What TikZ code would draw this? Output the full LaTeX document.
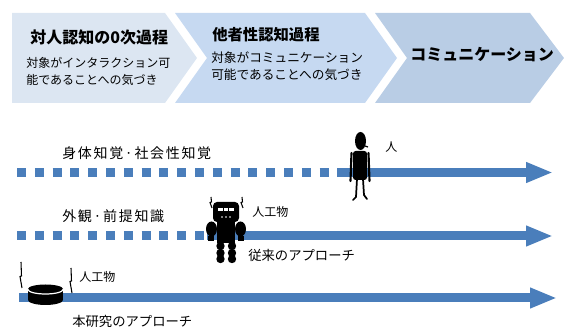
\documentclass[tikz,border=0pt]{standalone}
\usepackage{fontspec}
\setmainfont{Noto Sans CJK JP}
\newfontfamily\jp{Noto Sans CJK JP}
\newfontfamily\jpspaced[LetterSpace=12]{Noto Sans CJK JP}
\usetikzlibrary{arrows.meta}

\definecolor{chevA}{RGB}{220,230,242}
\definecolor{chevB}{RGB}{198,217,241}
\definecolor{chevC}{RGB}{185,205,229}
\definecolor{flowblue}{RGB}{74,126,187}

\tikzset{
  head/.style={anchor=west, inner sep=0pt, font=\jp\bfseries\fontsize{12pt}{14pt}\selectfont},
  desc/.style={anchor=west, inner sep=0pt, font=\jp\fontsize{9.5pt}{11pt}\selectfont},
  lbl/.style={anchor=west, inner sep=0pt, font=\jpspaced\fontsize{10.5pt}{12pt}\selectfont},
  approach/.style={anchor=west, inner sep=0pt, font=\jp\fontsize{10pt}{12pt}\selectfont},
  small/.style={anchor=west, inner sep=0pt, font=\jp\fontsize{9pt}{11pt}\selectfont},
  flow/.style={draw=flowblue, line width=6.75pt, -{Triangle[length=20.25pt,width=14.25pt]}},
  dashflow/.style={draw=flowblue, line width=6.75pt, dash pattern=on 6.75pt off 6.6pt},
  spark/.style={draw=black, line width=0.8pt, line join=miter},
}

\begin{document}
\begin{tikzpicture}[x=0.75pt, y=-0.75pt]
\useasboundingbox (0,0) rectangle (564,327);

% --- process chevrons ---
\fill[chevA] (12,13) -- (165,13) -- (197,58) -- (165,103) -- (12,103) -- cycle;
\fill[chevB] (175,13) -- (365,13) -- (397,58) -- (365,103) -- (175,103) -- (207,58) -- cycle;
\fill[chevC] (375,13) -- (530,13) -- (564,58) -- (530,103) -- (375,103) -- (407,58) -- cycle;

\node[head] (h1) at (30,37) {対人認知の0次過程};
\node[desc, font=\jp\fontsize{9pt}{11pt}\selectfont] (d1a) at (26,63) {対象がインタラクション可};
\node[desc, font=\jp\fontsize{9pt}{11pt}\selectfont] (d1b) at (26,80) {能であることへの気づき};

\node[head, font=\jp\bfseries\fontsize{11.5pt}{14pt}\selectfont] (h2) at (212,35) {他者性認知過程};
\node[desc] (d2a) at (211,58) {対象がコミュニケーション};
\node[desc] (d2b) at (211,75) {可能であることへの気づき};

\node[head] (h3) at (410,55) {コミュニケーション};

% --- flow lines ---
\coordinate (l1s) at (17,172.5);
\coordinate (l1m) at (339,172.5);
\coordinate (l1e) at (553,172.5);
\coordinate (l2s) at (17,236);
\coordinate (l2m) at (207,236);
\coordinate (l2e) at (553,236);
\coordinate (l3s) at (19,298);
\coordinate (l3e) at (557,298);

\draw[dashflow] (l1s) -- (l1m);
\draw[flow] (l1m) -- (l1e);
\draw[dashflow] (l2s) -- (l2m);
\draw[flow] (l2m) -- (l2e);
\draw[flow] (l3s) -- (l3e);

\node[lbl] (t1) at (62,153) {身体知覚·社会性知覚};
\node[lbl] (t2) at (62,216) {外観·前提知識};
\node[small] (human) at (385,147) {人};
\node[small] (art1) at (252,212) {人工物};
\node[approach] (app1) at (248,255) {従来のアプローチ};
\node[small] (art2) at (79,277) {人工物};
\node[approach] (app2) at (72,321) {本研究のアプローチ};

% --- human silhouette ---
\fill (360.5,141) ellipse [x radius=5.5, y radius=9];
\draw[line width=0.9pt] (365,146) -- (368,147);
\fill[rounded corners=2] (353,151) rectangle (367,180);
\draw[line width=1.6pt, line cap=round] (351.5,153) -- (350.5,181);
\draw[line width=1.6pt, line cap=round] (368.5,153) -- (369.5,181);
\draw[line width=1.3pt, line cap=round] (357,179) -- (356,197) -- (353,200);
\draw[line width=1.3pt, line cap=round] (363,179) -- (364,195) -- (367,199);

% --- robot silhouette ---
\draw[spark] (211,197) -- (211.5,202) -- (210,202.5) -- (212,208);
\draw[spark] (242,197) -- (242.5,202) -- (241,202.5) -- (243,208);
\fill[rounded corners=3] (213,202) rectangle (239,222);
\fill[white] (218,208) rectangle (234,211);
\fill (223,208) rectangle (224,211);
\fill (228,208) rectangle (229,211);
\foreach \dx in {222,226,230} \fill[white] (\dx,217) circle (0.9);
\fill (217,221) rectangle (235,243);
\fill (211.5,229) ellipse [x radius=5.5, y radius=7.5];
\fill (240.5,229) ellipse [x radius=5.5, y radius=7.5];
\fill (208,236) rectangle (214,241);
\fill (238,236) rectangle (244,241);
\foreach \cy in {246,253,259} {
  \fill (220.5,\cy) circle (4.2);
  \fill (232,\cy) circle (4.2);
}

% --- disc device ---
\fill (45.5,300) ellipse [x radius=17.5, y radius=5];
\fill (28,289) rectangle (63,300);
\fill (45.5,289) ellipse [x radius=17.5, y radius=4.5];
\draw[white, line width=0.9pt] (28,289.5) arc[start angle=180, end angle=0, x radius=17.5, y radius=4.5];
\draw[spark] (21,262) -- (21.5,276) -- (20,276.5) -- (22,288);
\draw[spark] (71,268) -- (71.5,281) -- (70,281.5) -- (72,293);
\end{tikzpicture}
\end{document}
